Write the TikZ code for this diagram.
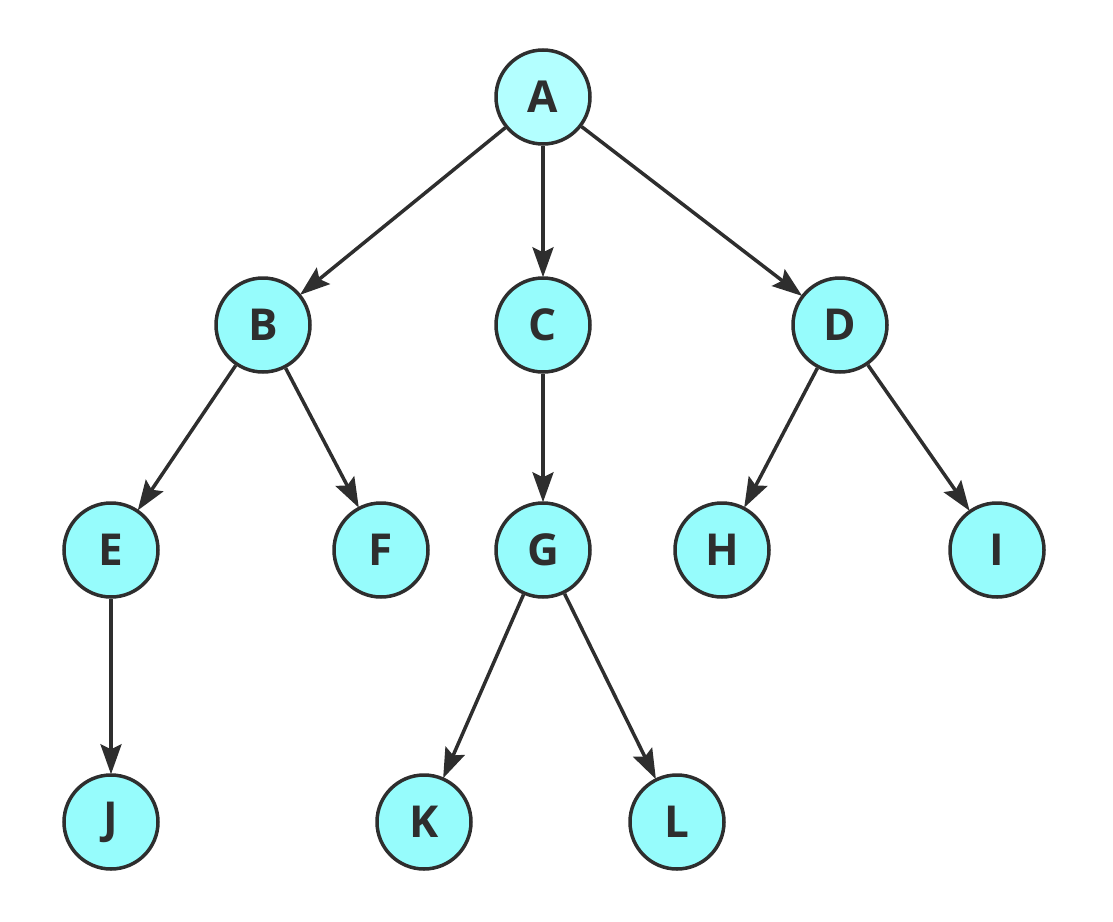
\documentclass[tikz,border=0pt]{standalone}
\usepackage{fontspec}
\setmainfont{Open Sans}
\usetikzlibrary{arrows.meta}
\definecolor{edgec}{HTML}{2E2E2E}
\definecolor{rootfill}{RGB}{179,255,255}
\definecolor{nodefill}{RGB}{150,252,252}
\begin{document}
\begin{tikzpicture}[x=1pt,y=-1pt,
  treenode/.style={circle,draw=edgec,line width=3.5pt,fill=nodefill,minimum size=94pt,inner sep=0pt,
    font=\fontsize{44}{44}\selectfont\bfseries,text=edgec},
  rootnode/.style={treenode,fill=rootfill},
  link/.style={draw=edgec,line width=3.5pt,-{Stealth[length=30pt,width=21pt,inset=5pt]},shorten >=-1pt}]
\useasboundingbox (0,0) rectangle (1113,921);
\node[rootnode] (A) at (543,97) {A};
\node[treenode] (B) at (263,325) {B};
\node[treenode] (C) at (543,325) {C};
\node[treenode] (D) at (840,325) {D};
\node[treenode] (E) at (111,550) {E};
\node[treenode] (F) at (381,550) {F};
\node[treenode] (G) at (543,550) {G};
\node[treenode] (H) at (722,550) {H};
\node[treenode] (I) at (997,550) {I};
\node[treenode] (J) at (111,822) {J};
\node[treenode] (K) at (424,822) {K};
\node[treenode] (L) at (677,822) {L};
\draw[link] (A) -- (B);
\draw[link] (A) -- (C);
\draw[link] (A) -- (D);
\draw[link] (B) -- (E);
\draw[link] (B) -- (F);
\draw[link] (C) -- (G);
\draw[link] (D) -- (H);
\draw[link] (D) -- (I);
\draw[link] (E) -- (J);
\draw[link] (G) -- (K);
\draw[link] (G) -- (L);
\end{tikzpicture}
\end{document}
